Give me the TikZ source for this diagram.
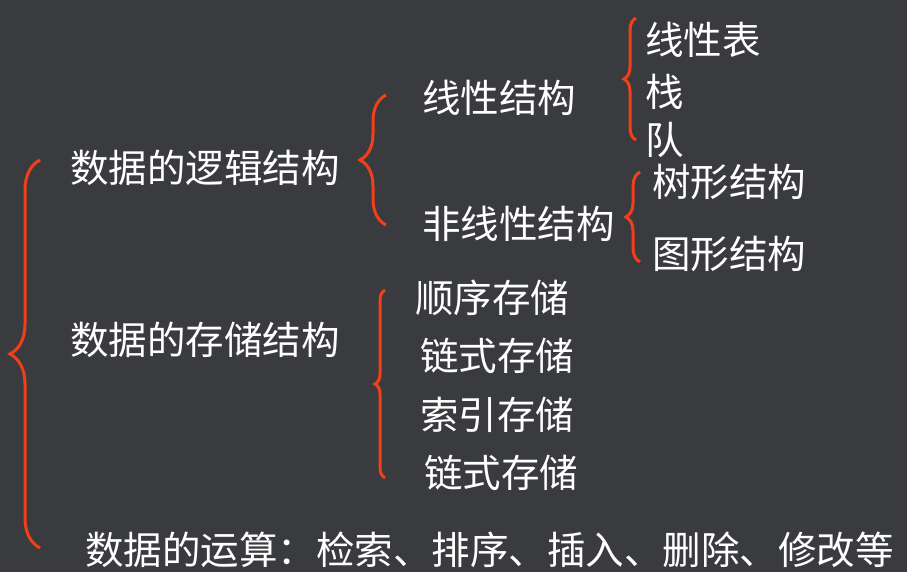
\documentclass[tikz,border=0pt]{standalone}
\usepackage{fontspec}
\setmainfont{Noto Sans CJK SC}
\usetikzlibrary{decorations.pathreplacing}
\definecolor{bg}{HTML}{3A3B3F}
\definecolor{br}{HTML}{F0401A}
\begin{document}
\begin{tikzpicture}[x=1pt,y=-1pt,
  t/.style={text=white,font=\fontsize{38.5}{40}\selectfont,inner sep=0pt},
  brc/.style={draw=br,line width=3pt,decorate,decoration={brace,amplitude=#1}}]
\fill[bg] (0,0) rectangle (907,572);
\useasboundingbox (0,0) rectangle (907,572);
\node[t,anchor=west] (a) at (70,168) {数据的逻辑结构};
\node[t,anchor=west] (b) at (70,340) {数据的存储结构};
\node[t,anchor=west] (c) at (85,550) {数据的运算：检索、排序、插入、删除、修改等};
\node[t,anchor=west] (a1) at (422,98) {线性结构};
\node[t,anchor=west] (a2) at (422,224) {非线性结构};
\node[t,anchor=west] (l1) at (645,40) {线性表};
\node[t,anchor=west] (l2) at (645,92) {栈};
\node[t,anchor=west] (l3) at (645,140) {队};
\node[t,anchor=west] (n1) at (652,182) {树形结构};
\node[t,anchor=west] (n2) at (652,254) {图形结构};
\node[t,anchor=west] (s1) at (415,298) {顺序存储};
\node[t,anchor=west] (s2) at (420,356) {链式存储};
\node[t,anchor=west] (s3) at (420,415) {索引存储};
\node[t,anchor=west] (s4) at (424,473) {链式存储};
\coordinate (B1a) at (40,548); \coordinate (B1b) at (40,160);
\draw[brc=30pt] (B1a) -- (B1b);
\coordinate (B2a) at (386,225); \coordinate (B2b) at (386,95);
\draw[brc=26pt] (B2a) -- (B2b);
\coordinate (B3a) at (636,140); \coordinate (B3b) at (636,18);
\draw[brc=12pt] (B3a) -- (B3b);
\coordinate (B4a) at (640,262); \coordinate (B4b) at (640,172);
\draw[brc=14pt] (B4a) -- (B4b);
\coordinate (B5a) at (385,478) ; \coordinate (B5b) at (385,290);
\draw[brc=10pt] (B5a) -- (B5b);
\end{tikzpicture}
\end{document}
